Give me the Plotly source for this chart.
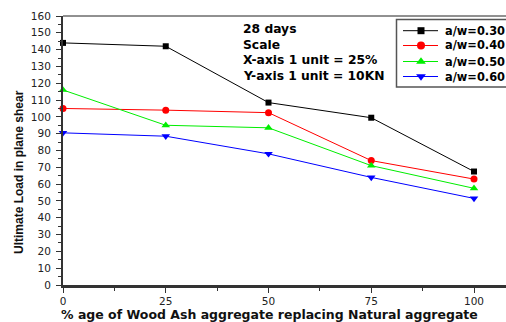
import plotly.graph_objects as go

x_vals = [0, 25, 50, 75, 100]
aw030 = [144, 142, 108.5, 99.5, 67.5]
aw040 = [105, 104, 102.5, 74, 63]
aw050 = [116, 95, 93.5, 71, 57.5]
aw060 = [90.5, 88.5, 78, 64, 51.5]
names = ["a/w=0.30", "a/w=0.40", "a/w=0.50", "a/w=0.60"]
colors = ["#000000", "#ff0000", "#00ee00", "#0000ff"]
symbols = ["square", "circle", "triangle-up", "triangle-down"]
sizes = [6, 7, 7.5, 7.5]
leg_sizes = [7, 8, 8.5, 8.5]
series = [aw030, aw040, aw050, aw060]
notes = ["28 days", "Scale", "X-axis 1 unit = 25%", "Y-axis 1 unit = 10KN"]

W, H = 506, 322
L, R, T, B = 63, 0, 16, 37
WIDE = "DejaVu Sans, Verdana, sans-serif"
ARIAL = "Liberation Sans, Arial, sans-serif"

fig = go.Figure()
for s, n, c, sym, sz in zip(series, names, colors, symbols, sizes):
    fig.add_trace(go.Scatter(
        x=x_vals, y=s, name=n, mode="lines+markers",
        line=dict(color=c, width=1),
        marker=dict(symbol=sym, size=sz, color=c),
        cliponaxis=False, showlegend=False,
    ))

pw = W - L - R
ph = H - T - B

def px_x(p):
    return (p - L) / pw

def px_y(p):
    return (H - B - p) / ph

# text block
for i, t in enumerate(notes):
    fig.add_annotation(
        x=px_x(241), y=px_y(29 + i * 15.7), xref="paper", yref="paper",
        text="<b>%s</b>" % t, showarrow=False, xanchor="left", yanchor="middle",
        font=dict(family=WIDE, size=12.3, color="#000"),
    )

# axis titles
fig.add_annotation(
    x=px_x(269), y=px_y(314), xref="paper", yref="paper",
    text="<b>% age of Wood Ash aggregate replacing Natural aggregate</b>",
    showarrow=False, xanchor="center", yanchor="middle",
    font=dict(family=WIDE, size=12.5, color="#111"),
)
fig.add_annotation(
    x=px_x(19), y=px_y(172), xref="paper", yref="paper",
    text="<b>Ultimate Load in plane shear</b>", textangle=-90,
    showarrow=False, xanchor="center", yanchor="middle",
    font=dict(family=ARIAL, size=12, color="#111"),
)

# top frame line
fig.add_shape(type="line", xref="paper", yref="paper", x0=0, x1=1, y0=1, y1=1,
              line=dict(color="#222", width=1))

# manual legend (box, line samples, marker samples, labels)
fig.add_shape(type="rect", xref="paper", yref="paper",
              x0=px_x(396.5), x1=px_x(W + 10), y0=px_y(19.5), y1=px_y(87),
              line=dict(color="#555", width=1.5), fillcolor="white", layer="below")
leg_y = [30.7, 45.5, 61.5, 76.5]
for i, (n, c, sym, sz) in enumerate(zip(names, colors, symbols, leg_sizes)):
    yy = leg_y[i]
    fig.add_shape(type="line", xref="paper", yref="paper",
                  x0=px_x(403), x1=px_x(438), y0=px_y(yy), y1=px_y(yy),
                  line=dict(color=c, width=1), layer="below")
    fig.add_trace(go.Scatter(
        x=[421], y=[yy], xaxis="x2", yaxis="y2", mode="markers",
        marker=dict(symbol=sym, size=sz, color=c), showlegend=False,
        cliponaxis=False, hoverinfo="skip",
    ))
    fig.add_annotation(
        x=px_x(443), y=px_y(yy), xref="paper", yref="paper",
        text="<b>%s</b>" % n, showarrow=False, xanchor="left", yanchor="middle",
        font=dict(family=WIDE, size=11.4, color="#000"),
    )

fig.update_layout(
    width=W, height=H,
    margin=dict(l=L, r=R, t=T, b=B, pad=0),
    plot_bgcolor="white", paper_bgcolor="white",
    showlegend=False,
    font=dict(family=WIDE),
    xaxis=dict(
        range=[0, (W - L) / 4.11], tickvals=x_vals, ticktext=[str(v) for v in x_vals],
        showgrid=False, zeroline=False, showline=True, linewidth=2.5, linecolor="#333",
        ticks="outside", ticklen=5, tickwidth=1, tickcolor="#333",
        minor=dict(dtick=12.5, tick0=0, ticks="outside", ticklen=3, tickcolor="#333", showgrid=False),
        tickfont=dict(family=WIDE, size=10.5, color="#222"),
    ),
    yaxis=dict(
        range=[0, 160], dtick=10, tick0=0,
        showgrid=False, zeroline=False, showline=True, linewidth=2, linecolor="#333",
        ticks="outside", ticklen=5, tickwidth=1, tickcolor="#333",
        minor=dict(dtick=5, tick0=0, ticks="outside", ticklen=3, tickcolor="#333", showgrid=False),
        tickfont=dict(family=WIDE, size=10.5, color="#222"),
        ticklabelstandoff=3,
    ),
    xaxis2=dict(range=[L, W], overlaying="x", visible=False, fixedrange=True),
    yaxis2=dict(range=[H - B, T], overlaying="y", visible=False, fixedrange=True),
)

fig.write_html("out.html")
